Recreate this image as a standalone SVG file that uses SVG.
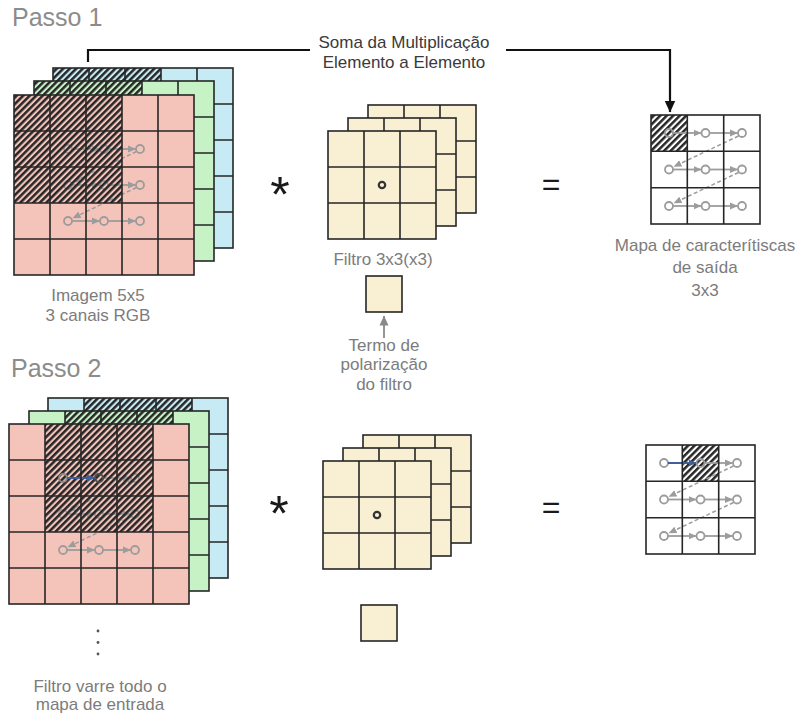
<svg xmlns="http://www.w3.org/2000/svg" width="798" height="717" viewBox="0 0 798 717">
  <style>
    .grid { fill: none; stroke: #262626; stroke-width: 1.6; }
    .pink { fill: #f4c3ba; }
    .green { fill: #c6f2c6; }
    .blue { fill: #c6ebf4; }
    .cream { fill: #f9efd3; }
    .white { fill: #ffffff; }
    .hatch { fill: url(#hatch); }
    .pt { fill: none; stroke: #9c9c9c; stroke-width: 1.8; }
    .mv { fill: none; stroke: #9c9c9c; stroke-width: 1.8; marker-end: url(#ga); }
    .jump { fill: none; stroke: #9c9c9c; stroke-width: 1.5; stroke-dasharray: 4 2.5; marker-end: url(#ga); }
    .cur { fill: none; stroke: #3d5f9c; stroke-width: 2; marker-end: url(#ba); }
    .title { font-family: "Liberation Sans", Arial, sans-serif; font-size: 25px; fill: #8c8c8c; }
    .lbl { font-family: "Liberation Sans", Arial, sans-serif; font-size: 17px; fill: #7c7c7c; text-anchor: middle; }
    .lbl-dark { font-family: "Liberation Sans", Arial, sans-serif; font-size: 17px; fill: #3a3a3a; text-anchor: middle; }
    .op { font-family: "Liberation Sans", Arial, sans-serif; fill: #1a1a1a; text-anchor: middle; }
  </style>
  <defs>
    <pattern id="hatch" width="4.6" height="4.6" patternUnits="userSpaceOnUse" patternTransform="rotate(45)">
      <rect width="2.5" height="4.6" fill="#262626"/>
    </pattern>
    <marker id="ga" viewBox="0 0 8 8" refX="7.5" refY="4" markerWidth="8" markerHeight="8" markerUnits="userSpaceOnUse" orient="auto">
      <path d="M0,0.5 L8,4 L0,7.5 z" fill="#9c9c9c"/>
    </marker>
    <marker id="ba" viewBox="0 0 8 8" refX="7.5" refY="4" markerWidth="8" markerHeight="8" markerUnits="userSpaceOnUse" orient="auto">
      <path d="M0,0.5 L8,4 L0,7.5 z" fill="#3d5f9c"/>
    </marker>
    <marker id="ka" viewBox="0 0 10 10" refX="9.5" refY="5" markerWidth="12" markerHeight="12" markerUnits="userSpaceOnUse" orient="auto">
      <path d="M0,0.5 L10,5 L0,9.5 z" fill="#111111"/>
    </marker>
    <marker id="gb" viewBox="0 0 10 10" refX="9.5" refY="5" markerWidth="10" markerHeight="10" markerUnits="userSpaceOnUse" orient="auto">
      <path d="M0,0.5 L10,5 L0,9.5 z" fill="#8a8a8a"/>
    </marker>
  </defs>

  <rect width="798" height="717" fill="#ffffff"/>

  <!-- headings -->
  <text class="title" x="12" y="26">Passo 1</text>
  <text class="title" x="11" y="377">Passo 2</text>

  <!-- ===== Step 1: input image, three channels ===== -->
  <g id="input1">
    <g id="input1-blue">
      <rect class="blue" x="53" y="68" width="180" height="180"/>
      <rect class="hatch" x="53" y="68" width="108" height="36"/>
      <rect class="grid" x="53" y="68" width="180" height="180"/>
      <path class="grid" d="M89,68V248M125,68V248M161,68V248M197,68V248M53,104H233M53,140H233M53,176H233M53,212H233"/>
    </g>
    <g id="input1-green">
      <rect class="green" x="34" y="81" width="180" height="180"/>
      <rect class="hatch" x="34" y="81" width="108" height="36"/>
      <rect class="grid" x="34" y="81" width="180" height="180"/>
      <path class="grid" d="M70,81V261M106,81V261M142,81V261M178,81V261M34,117H214M34,153H214M34,189H214M34,225H214"/>
    </g>
    <g id="input1-red">
      <rect class="pink" x="14" y="95" width="180" height="180"/>
      <!-- filter centre positions -->
      <g>
        <circle class="pt" cx="68" cy="149" r="4"/><circle class="pt" cx="104" cy="149" r="4"/><circle class="pt" cx="140" cy="149" r="4"/>
        <circle class="pt" cx="68" cy="185" r="4"/><circle class="pt" cx="104" cy="185" r="4"/><circle class="pt" cx="140" cy="185" r="4"/>
        <circle class="pt" cx="68" cy="221" r="4"/><circle class="pt" cx="104" cy="221" r="4"/><circle class="pt" cx="140" cy="221" r="4"/>
        <path class="mv" d="M72,149H99.5"/><path class="mv" d="M108,149H135.5"/>
        <path class="mv" d="M72,185H99.5"/><path class="mv" d="M108,185H135.5"/>
        <path class="mv" d="M72,221H99.5"/><path class="mv" d="M108,221H135.5"/>
        <path class="jump" d="M136.5,151.5L73,182"/>
        <path class="jump" d="M136.5,187.5L73,218"/>
      </g>
      <rect class="hatch" x="14" y="95" width="108" height="108"/>
      <rect class="grid" x="14" y="95" width="180" height="180"/>
      <path class="grid" d="M50,95V275M86,95V275M122,95V275M158,95V275M14,131H194M14,167H194M14,203H194M14,239H194"/>
    </g>
    <text class="lbl" x="98" y="301">Imagem 5x5</text>
    <text class="lbl" x="98" y="321">3 canais RGB</text>
  </g>

  <text class="op" x="280" y="212" font-size="50">*</text>

  <!-- ===== Step 1: 3x3x3 filter ===== -->
  <g id="filter1">
    <rect class="cream" x="368" y="105" width="108" height="108"/>
    <rect class="grid" x="368" y="105" width="108" height="108"/>
    <path class="grid" d="M404,105V213M440,105V213M368,141H476M368,177H476"/>
    <rect class="cream" x="348" y="118" width="108" height="108"/>
    <rect class="grid" x="348" y="118" width="108" height="108"/>
    <path class="grid" d="M384,118V226M420,118V226M348,154H456M348,190H456"/>
    <rect class="cream" x="328" y="131" width="108" height="108"/>
    <rect class="grid" x="328" y="131" width="108" height="108"/>
    <path class="grid" d="M364,131V239M400,131V239M328,167H436M328,203H436"/>
    <circle cx="382" cy="185" r="3.2" fill="none" stroke="#333333" stroke-width="2.2"/>
    <text class="lbl" x="383" y="265">Filtro 3x3(x3)</text>
  </g>

  <g id="bias1">
    <rect class="cream" x="366" y="276" width="36" height="36"/>
    <rect class="grid" x="366" y="276" width="36" height="36"/>
    <text class="lbl" x="384" y="351">Termo de</text>
    <text class="lbl" x="384" y="370">polarização</text>
    <text class="lbl" x="384" y="390">do filtro</text>
  </g>

  <text class="op" x="551" y="195" font-size="32">=</text>

  <!-- ===== Step 1: output feature map ===== -->
  <g id="output1">
    <rect class="white" x="651" y="115" width="109" height="109"/>
    <rect class="hatch" x="651" y="115" width="36.3" height="36.3"/>
    <circle class="pt" cx="669" cy="133" r="4"/><circle class="pt" cx="705.5" cy="133" r="4"/><circle class="pt" cx="742" cy="133" r="4"/>
    <circle class="pt" cx="669" cy="169.5" r="4"/><circle class="pt" cx="705.5" cy="169.5" r="4"/><circle class="pt" cx="742" cy="169.5" r="4"/>
    <circle class="pt" cx="669" cy="206" r="4"/><circle class="pt" cx="705.5" cy="206" r="4"/><circle class="pt" cx="742" cy="206" r="4"/>
    <path class="mv" d="M673,133H701"/><path class="mv" d="M709.5,133H737.5"/>
    <path class="mv" d="M673,169.5H701"/><path class="mv" d="M709.5,169.5H737.5"/>
    <path class="mv" d="M673,206H701"/><path class="mv" d="M709.5,206H737.5"/>
    <path class="jump" d="M738.5,136L674,166.5"/>
    <path class="jump" d="M738.5,172.5L674,203"/>
    <rect class="grid" x="651" y="115" width="109" height="109"/>
    <path class="grid" d="M687.3,115V224M723.7,115V224M651,151.3H760M651,187.7H760"/>
    <text class="lbl" x="705" y="251">Mapa de caracterítiscas</text>
    <text class="lbl" x="705" y="273">de saída</text>
    <text class="lbl" x="705" y="296">3x3</text>
  </g>

  <!-- ===== Step 2: input image, filter shifted one column ===== -->
  <g id="input2">
    <g id="input2-blue">
      <rect class="blue" x="48" y="398" width="180" height="180"/>
      <rect class="hatch" x="84" y="398" width="108" height="36"/>
      <rect class="grid" x="48" y="398" width="180" height="180"/>
      <path class="grid" d="M84,398V578M120,398V578M156,398V578M192,398V578M48,434H228M48,470H228M48,506H228M48,542H228"/>
    </g>
    <g id="input2-green">
      <rect class="green" x="29" y="411" width="180" height="180"/>
      <rect class="hatch" x="65" y="411" width="108" height="36"/>
      <rect class="grid" x="29" y="411" width="180" height="180"/>
      <path class="grid" d="M65,411V591M101,411V591M137,411V591M173,411V591M29,447H209M29,483H209M29,519H209M29,555H209"/>
    </g>
    <g id="input2-red">
      <rect class="pink" x="9" y="424" width="180" height="180"/>
      <g>
        <circle class="pt" cx="63" cy="478" r="4"/><circle class="pt" cx="135" cy="478" r="4"/>
        <circle class="pt" cx="63" cy="514" r="4"/><circle class="pt" cx="99" cy="514" r="4"/><circle class="pt" cx="135" cy="514" r="4"/>
        <circle class="pt" cx="63" cy="550" r="4"/><circle class="pt" cx="99" cy="550" r="4"/><circle class="pt" cx="135" cy="550" r="4"/>
        <path class="mv" d="M103,478H130.5"/>
        <path class="mv" d="M67,514H94.5"/><path class="mv" d="M103,514H130.5"/>
        <path class="mv" d="M67,550H94.5"/><path class="mv" d="M103,550H130.5"/>
        <path class="jump" d="M131.5,480.5L68,511"/>
        <path class="jump" d="M131.5,516.5L68,547"/>
      </g>
      <rect class="hatch" x="45" y="424" width="108" height="108"/>
      <circle cx="63" cy="478" r="4" fill="none" stroke="#8a8a8a" stroke-width="1.8"/>
      <circle cx="99" cy="478" r="4" fill="none" stroke="#4a4a4a" stroke-width="2"/>
      <path class="cur" d="M67,478H94.5"/>
      <rect class="grid" x="9" y="424" width="180" height="180"/>
      <path class="grid" d="M45,424V604M81,424V604M117,424V604M153,424V604M9,460H189M9,496H189M9,532H189M9,568H189"/>
    </g>
    <circle cx="98" cy="631" r="1.4" fill="#555555"/>
    <circle cx="98" cy="642.5" r="1.4" fill="#555555"/>
    <circle cx="98" cy="654" r="1.4" fill="#555555"/>
    <text class="lbl" x="100" y="692">Filtro varre todo o</text>
    <text class="lbl" x="100" y="710">mapa de entrada</text>
  </g>

  <text class="op" x="279" y="531" font-size="50">*</text>

  <!-- ===== Step 2: filter ===== -->
  <g id="filter2">
    <rect class="cream" x="363" y="435" width="108" height="108"/>
    <rect class="grid" x="363" y="435" width="108" height="108"/>
    <path class="grid" d="M399,435V543M435,435V543M363,471H471M363,507H471"/>
    <rect class="cream" x="343" y="448" width="108" height="108"/>
    <rect class="grid" x="343" y="448" width="108" height="108"/>
    <path class="grid" d="M379,448V556M415,448V556M343,484H451M343,520H451"/>
    <rect class="cream" x="323" y="461" width="108" height="108"/>
    <rect class="grid" x="323" y="461" width="108" height="108"/>
    <path class="grid" d="M359,461V569M395,461V569M323,497H431M323,533H431"/>
    <circle cx="377" cy="515" r="3.2" fill="none" stroke="#333333" stroke-width="2.2"/>
  </g>

  <g id="bias2">
    <rect class="cream" x="361" y="605" width="36" height="36"/>
    <rect class="grid" x="361" y="605" width="36" height="36"/>
  </g>

  <text class="op" x="551" y="518" font-size="32">=</text>

  <!-- ===== Step 2: output feature map ===== -->
  <g id="output2">
    <rect class="white" x="646" y="445" width="109" height="109"/>
    <rect class="hatch" x="682.3" y="445" width="36.4" height="36.3"/>
    <circle class="pt" cx="664" cy="463" r="4"/><circle class="pt" cx="700.5" cy="463" r="4"/><circle class="pt" cx="737" cy="463" r="4"/>
    <circle class="pt" cx="664" cy="499.5" r="4"/><circle class="pt" cx="700.5" cy="499.5" r="4"/><circle class="pt" cx="737" cy="499.5" r="4"/>
    <circle class="pt" cx="664" cy="536" r="4"/><circle class="pt" cx="700.5" cy="536" r="4"/><circle class="pt" cx="737" cy="536" r="4"/>
    <path class="mv" d="M704.5,463H732.5"/>
    <path class="mv" d="M668,499.5H696"/><path class="mv" d="M704.5,499.5H732.5"/>
    <path class="mv" d="M668,536H696"/><path class="mv" d="M704.5,536H732.5"/>
    <path class="jump" d="M733.5,466L669,496.5"/>
    <path class="jump" d="M733.5,502.5L669,533"/>
    <path class="cur" d="M668,463H696"/>
    <rect class="grid" x="646" y="445" width="109" height="109"/>
    <path class="grid" d="M682.3,445V554M718.7,445V554M646,481.3H755M646,517.7H755"/>
  </g>

  <!-- connectors -->
  <g id="connectors">
    <path d="M88,62V50H310M506,50H670V112" fill="none" stroke="#111111" stroke-width="2.2" marker-end="url(#ka)"/>
    <path d="M384,338V316" fill="none" stroke="#8a8a8a" stroke-width="1.8" marker-end="url(#gb)"/>
    <text class="lbl-dark" x="404" y="48">Soma da Multiplicação</text>
    <text class="lbl-dark" x="404" y="68">Elemento a Elemento</text>
  </g>
</svg>
